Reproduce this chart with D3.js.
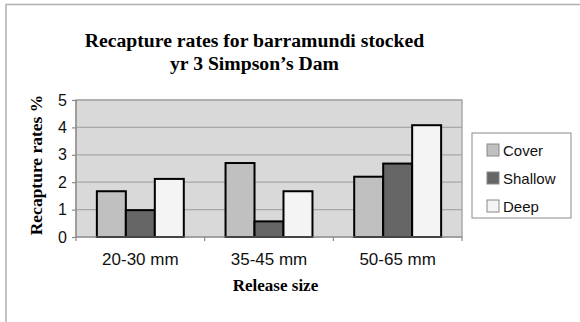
<!DOCTYPE html>
<html>
<head>
<meta charset="utf-8">
<script src="https://cdn.jsdelivr.net/npm/d3@7"></script>
<style>
  html, body { margin: 0; padding: 0; background: #fff; }
  svg { display: block; }
  .tick text { font-family: Arial, "Liberation Sans", sans-serif; font-size: 16px; fill: #111; }
</style>
</head>
<body>
<svg id="chart"></svg>
<script>
// data
const categories = ['20-30 mm', '35-45 mm', '50-65 mm'];
const seriesNames = ['Cover', 'Shallow', 'Deep'];
const cover = [1.67, 2.7, 2.2];
const shallow = [0.98, 0.57, 2.68];
const deep = [2.12, 1.67, 4.08];
const yTicks = [0, 1, 2, 3, 4, 5];
const seriesColors = ['#c0c0c0', '#666666', '#f4f4f4'];

const width = 580, height = 322;
const plot = { left: 76, right: 462, top: 100, bottom: 237 };

const svg = d3.select('#chart').attr('width', width).attr('height', height);

// outer frame (only top/left edges are visible in the crop)
svg.append('path')
    .attr('d', `M6,${height} V4.5 H${width}`)
    .attr('fill', 'none')
    .attr('stroke', '#b0b0b0')
    .attr('stroke-width', 1.5);

const x = d3.scaleBand()
    .domain(categories)
    .range([plot.left, plot.right])
    .paddingInner(0)
    .paddingOuter(0);

const y = d3.scaleLinear()
    .domain([0, 5])
    .range([plot.bottom, plot.top]);

// plot background
svg.append('rect')
    .attr('x', plot.left).attr('y', plot.top)
    .attr('width', plot.right - plot.left).attr('height', plot.bottom - plot.top)
    .attr('fill', '#d9d9d9')
    .attr('stroke', '#a8a8a8')
    .attr('stroke-width', 1.5);

// gridlines
svg.append('g')
    .selectAll('line')
    .data(yTicks.slice(1))
    .join('line')
    .attr('x1', plot.left).attr('x2', plot.right)
    .attr('y1', d => y(d)).attr('y2', d => y(d))
    .attr('stroke', '#a8a8a8')
    .attr('stroke-width', 1.2);

// bars
const rows = categories.map((c, i) => ({ cat: c, values: [cover[i], shallow[i], deep[i]] }));
const inner = d3.scaleBand()
    .domain(seriesNames)
    .range([0, x.bandwidth()])
    .paddingOuter(0.72)
    .paddingInner(0);

const groups = svg.append('g')
    .selectAll('g')
    .data(rows)
    .join('g')
    .attr('transform', d => `translate(${x(d.cat)},0)`);

groups.selectAll('rect')
    .data(d => d.values.map((v, j) => ({ name: seriesNames[j], v, j })))
    .join('rect')
    .attr('x', d => inner(d.name))
    .attr('y', d => y(d.v))
    .attr('width', inner.bandwidth())
    .attr('height', d => y(0) - y(d.v))
    .attr('fill', d => seriesColors[d.j])
    .attr('stroke', '#000')
    .attr('stroke-width', 2);

// y axis
const yAxis = svg.append('g')
    .attr('transform', `translate(${plot.left},0)`)
    .call(d3.axisLeft(y).tickValues(yTicks).tickFormat(d3.format('d')).tickSize(4).tickPadding(5));
yAxis.selectAll('path, line').attr('stroke', '#8a8a8a').attr('stroke-width', 1.2);
yAxis.select('.domain').attr('d', `M0,${plot.top}V${plot.bottom}`);

// x axis with ticks at category boundaries
const xAxis = svg.append('g')
    .attr('transform', `translate(0,${plot.bottom})`);
xAxis.append('line')
    .attr('x1', plot.left).attr('x2', plot.right)
    .attr('stroke', '#8a8a8a').attr('stroke-width', 1.2);
const edges = categories.map(c => x(c)).concat([x(categories[categories.length - 1]) + x.bandwidth()]);
xAxis.selectAll('.edge')
    .data(edges)
    .join('line')
    .attr('class', 'edge')
    .attr('x1', d => d).attr('x2', d => d)
    .attr('y1', 0).attr('y2', 4)
    .attr('stroke', '#8a8a8a').attr('stroke-width', 1.2);
xAxis.selectAll('.lbl')
    .data(categories)
    .join('text')
    .attr('class', 'lbl')
    .attr('x', d => x(d) + x.bandwidth() / 2)
    .attr('y', 28)
    .attr('text-anchor', 'middle')
    .attr('font-family', 'Arial, "Liberation Sans", sans-serif')
    .attr('font-size', 17)
    .attr('fill', '#111')
    .text(d => d);

// titles
const serif = '"Liberation Serif", "Times New Roman", serif';
svg.append('text')
    .attr('x', 254.5).attr('y', 47)
    .attr('text-anchor', 'middle')
    .attr('font-family', serif).attr('font-weight', 'bold').attr('font-size', 19.7)
    .text('Recapture rates for barramundi stocked');
svg.append('text')
    .attr('x', 254.5).attr('y', 70)
    .attr('text-anchor', 'middle')
    .attr('font-family', serif).attr('font-weight', 'bold').attr('font-size', 19.7)
    .text('yr 3 Simpson\u2019s Dam');

svg.append('text')
    .attr('x', 275.5).attr('y', 291)
    .attr('text-anchor', 'middle')
    .attr('font-family', serif).attr('font-weight', 'bold').attr('font-size', 17)
    .text('Release size');

svg.append('text')
    .attr('transform', 'translate(42,165) rotate(-90)')
    .attr('text-anchor', 'middle')
    .attr('font-family', serif).attr('font-weight', 'bold').attr('font-size', 17.5)
    .text('Recapture rates %');

// legend
const legend = svg.append('g').attr('transform', 'translate(472,133)');
legend.append('rect')
    .attr('width', 99).attr('height', 85)
    .attr('fill', '#fff')
    .attr('stroke', '#8a8a8a')
    .attr('stroke-width', 1);
const items = legend.selectAll('.item')
    .data(seriesNames)
    .join('g')
    .attr('class', 'item')
    .attr('transform', (d, i) => `translate(0,${17 + i * 28})`);
items.append('rect')
    .attr('x', 15).attr('y', -6)
    .attr('width', 12).attr('height', 12)
    .attr('fill', (d, i) => seriesColors[i])
    .attr('stroke', '#888')
    .attr('stroke-width', 1);
items.append('text')
    .attr('x', 31).attr('y', 5.5)
    .attr('font-family', 'Arial, "Liberation Sans", sans-serif')
    .attr('font-size', 15)
    .attr('fill', '#111')
    .text(d => d);
</script>
</body>
</html>
